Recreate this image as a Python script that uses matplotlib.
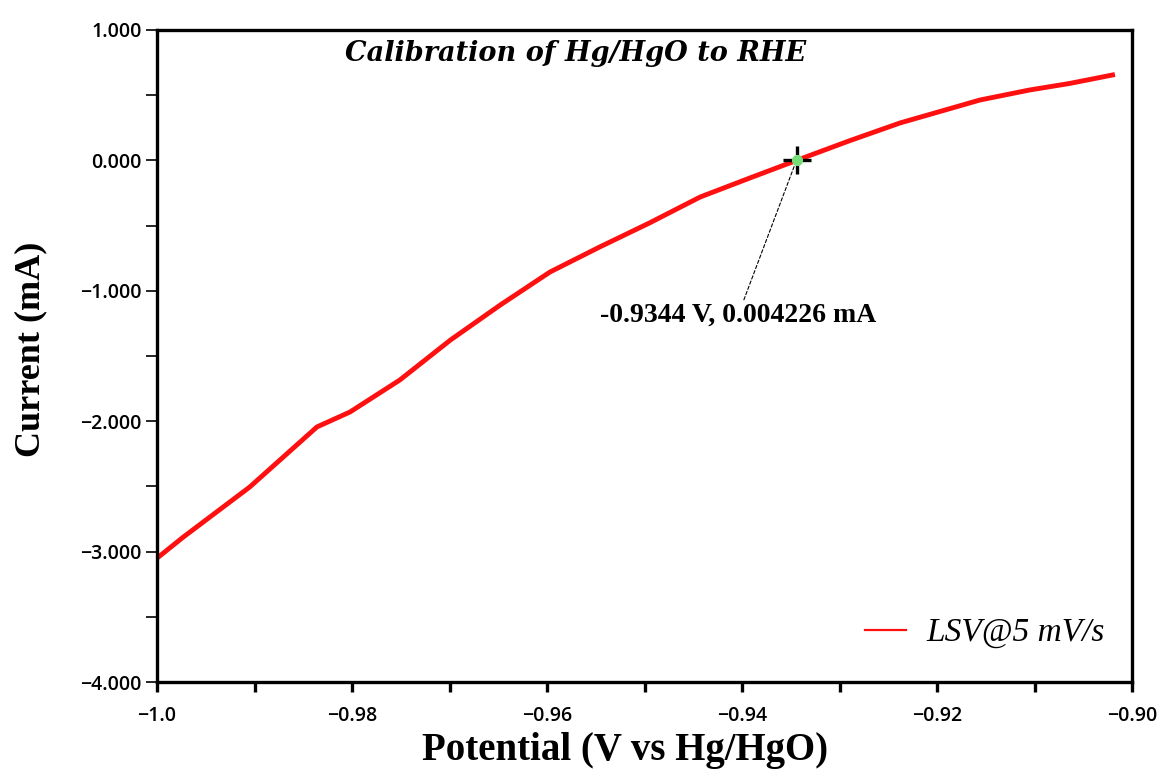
import numpy as np
import matplotlib
matplotlib.use('Agg')
import matplotlib.pyplot as plt
from matplotlib.ticker import MultipleLocator, FuncFormatter

# LSV trace
potential = [-1.0, -0.9973, -0.9905, -0.9836, -0.9802, -0.9751, -0.9699, -0.9648,
             -0.9597, -0.9546, -0.9495, -0.9443, -0.9392, -0.9343, -0.929, -0.9238,
             -0.9156, -0.9105, -0.9064, -0.902]
current = [-3.05, -2.888, -2.505, -2.044, -1.929, -1.684, -1.377, -1.109,
           -0.856, -0.664, -0.48, -0.281, -0.135, 0.003, 0.15, 0.287,
           0.463, 0.540, 0.59, 0.655]
zero_x = -0.9344
zero_y = 0.004226

serif = 'Liberation Serif'
tickfont = 'Open Sans'

fig = plt.figure(figsize=(11.65, 7.69), dpi=100)
ax = fig.add_axes([0.1348, 0.1131, 0.8369, 0.8479])

ax.plot(potential, current, color='#ff1010', lw=3.5, label='LSV@5 mV/s')
ax.plot([zero_x], [zero_y], 'o', color='#77dd77', ms=7, zorder=4)
ax.plot([zero_x], [zero_y], '+', color='black', ms=20, mew=2.4, zorder=3)

ax.annotate(f'{zero_x:.4f} V, {zero_y:.6f} mA',
            xy=(zero_x, zero_y), xytext=(-0.9404, -1.09),
            ha='center', va='top', fontsize=20, fontweight='bold', family=serif,
            arrowprops=dict(arrowstyle='-', ls=(0, (3, 2)), lw=0.8, color='black',
                            shrinkA=0, shrinkB=3))

ax.text(0.429, 0.985, 'Calibration of Hg/HgO to RHE', transform=ax.transAxes,
        ha='center', va='top', fontsize=19.5, fontweight='bold', style='italic',
        family='DejaVu Serif')

ax.set_xlim(-1.0, -0.90)
ax.set_ylim(-4.0, 1.0)
ax.xaxis.set_major_locator(MultipleLocator(0.02))
ax.xaxis.set_minor_locator(MultipleLocator(0.01))
ax.yaxis.set_major_locator(MultipleLocator(1.0))
ax.yaxis.set_minor_locator(MultipleLocator(0.5))


def xfmt(v, pos):
    if abs(v + 1.0) < 1e-9:
        return '\u22121.0'
    return f'{v:.2f}'.replace('-', '\u2212')


ax.xaxis.set_major_formatter(FuncFormatter(xfmt))
ax.yaxis.set_major_formatter(FuncFormatter(lambda v, p: f'{v:.3f}'.replace('-', '\u2212')))

for s in ax.spines.values():
    s.set_linewidth(2.4)
ax.tick_params(axis='x', which='both', direction='out', width=2.4, length=7, pad=10)
ax.tick_params(axis='y', which='both', direction='out', width=1.2, length=8, pad=3)
for lab in ax.get_xticklabels() + ax.get_yticklabels():
    lab.set_family(tickfont)
    lab.set_fontweight('semibold')
    lab.set_fontsize(14)

ax.set_xlabel('Potential (V vs Hg/HgO)', family=serif, fontweight='bold', fontsize=28)
ax.xaxis.set_label_coords(0.48, -0.076)
ax.set_ylabel('Current (mA)', family=serif, fontweight='bold', fontsize=26)
ax.yaxis.set_label_coords(-0.113, 0.511)

leg = ax.legend(loc='center right', frameon=False,
                prop={'family': serif, 'style': 'italic', 'size': 24},
                handlelength=1.25, handletextpad=0.6, borderpad=0, borderaxespad=0,
                bbox_to_anchor=(0.972, 0.075))
for h in leg.get_lines():
    h.set_linewidth(1.6)

fig.savefig('out.png', dpi=100)
